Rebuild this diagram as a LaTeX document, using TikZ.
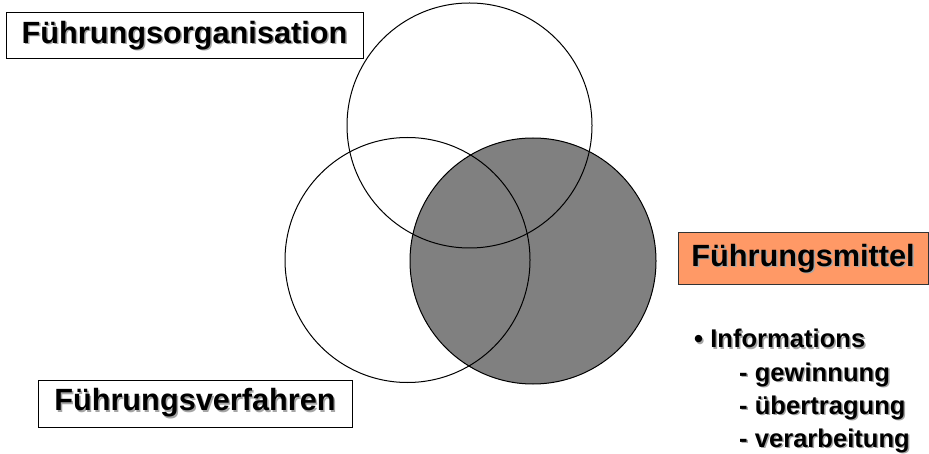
\documentclass[tikz,border=0pt]{standalone}
\usepackage{fontspec}
\setmainfont{Liberation Sans}
\usetikzlibrary{positioning}
\definecolor{mittelorange}{RGB}{255,153,102}
\definecolor{venngray}{RGB}{128,128,128}
\definecolor{textshadow}{RGB}{165,165,165}
% text with a soft grey drop shadow
\newcommand\shadowtext[1]{\makebox[0pt][l]{\hspace{1.5pt}\raisebox{-1.5pt}{\color{textshadow}#1}}#1}
\tikzset{
  venn/.style={circle, draw=black, line width=1pt, minimum size=245pt, inner sep=0pt}, % the three circles
  labelbox/.style={draw=black, fill=white, line width=1pt, inner sep=0pt, font=\fontsize{30.7}{36}\selectfont\bfseries}, % framed titles
  listline/.style={anchor=base west, inner sep=0pt, font=\fontsize{25.6}{30}\selectfont\bfseries}, % bullet list
}

\begin{document}
\begin{tikzpicture}[x=1pt, y=-1pt]
  \useasboundingbox (0,0) rectangle (929,454);

  \node[venn, fill=venngray, minimum size=246pt] (mittel) at (533,261) {};
  \node[venn] (orga) at (469.5,125.5) {};
  \node[venn] (verf) at (407.5,260) {};

  \node[labelbox, minimum width=357pt, minimum height=46pt] (orgabox) at (184.5,36) {\shadowtext{Führungsorganisation}};
  \node[labelbox, minimum width=314pt, minimum height=47pt] (verfbox) at (195,403.5) {\shadowtext{Führungsverfahren}};
  \node[labelbox, fill=mittelorange, draw=black!80, minimum width=250pt, minimum height=52pt] (mittelbox) at (803,259) {\shadowtext{Führungsmittel}};

  \node[listline] (info) at (694,348) {\shadowtext{• Informations}};
  \node[listline] (gew) at (739,381) {\shadowtext{- gewinnung}};
  \node[listline] (ueber) at ([yshift=-33pt]gew.base west) {\shadowtext{- übertragung}};
  \node[listline] (verarb) at ([yshift=-33pt]ueber.base west) {\shadowtext{- verarbeitung}};
\end{tikzpicture}
\end{document}
